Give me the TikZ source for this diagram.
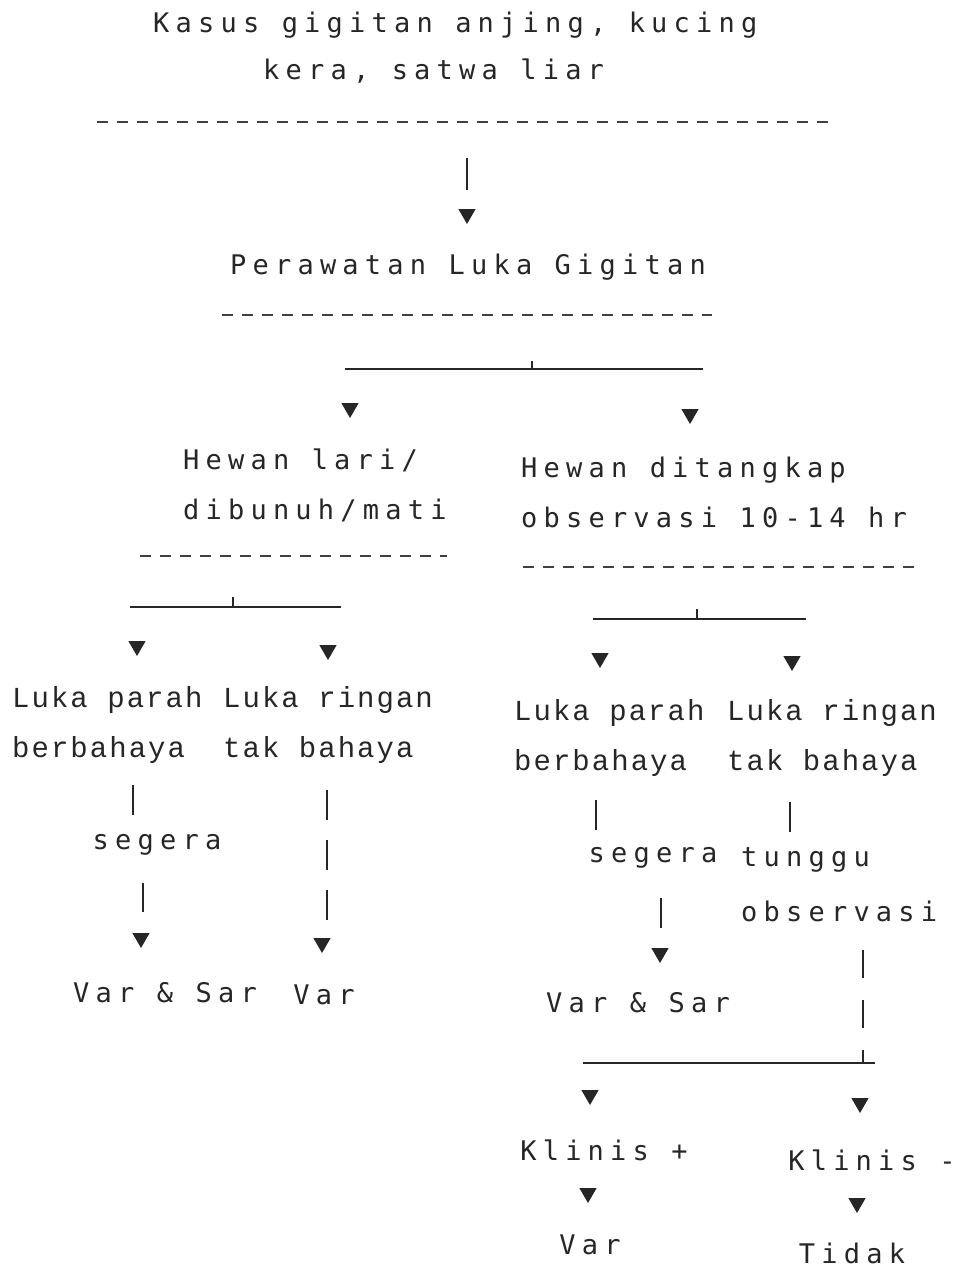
\documentclass[tikz,border=0pt]{standalone}
\usepackage{fontspec}
\usetikzlibrary{shapes.geometric}
\newfontfamily\dotfamily[LetterSpace=23]{DejaVu Sans Mono}
\newfontfamily\typefamily[LetterSpace=7]{Liberation Mono}
\newcommand{\dotface}{\dotfamily\fontsize{27}{50}\selectfont}
\newcommand{\dottitleface}{\dotfamily\fontsize{27}{47}\selectfont}
\newcommand{\dotwideface}{\dotfamily\fontsize{27}{55}\selectfont}
\newcommand{\typeface}{\typefamily\fontsize{29}{50}\selectfont}
\tikzset{
  dottext/.style={inner sep=0pt, font=\dotface, text=black!85},
  typetext/.style={inner sep=0pt, font=\typeface, text=black!85, align=left},
  downhead/.style={regular polygon, regular polygon sides=3, shape border rotate=180,
    fill=black!85, inner sep=0pt, minimum size=20pt},
  typedrule/.style={line width=1.6pt, dash pattern=on 11pt off 9pt, black!75},
  stem/.style={line width=1.8pt, black!85},
  splitbar/.style={line width=1.4pt, black!85}
}

\begin{document}
\begin{tikzpicture}[x=1pt, y=-1pt]
        \useasboundingbox (0,0) rectangle (962,1269);
        \node (title) [dottext, align=left, anchor=west, font=\dottitleface] at (153,48) {Kasus gigitan anjing, kucing\\\hspace*{110pt}kera, satwa liar};
        \node (care) [dottext] at (468,267) {Perawatan Luka Gigitan};
        \node (fled) [dottext, align=left, anchor=west] at (183,485) {Hewan lari/\\dibunuh/mati};
        \node (caught) [dottext, align=left, anchor=west] at (521,492) {Hewan ditangkap\\observasi 10-14 hr};
        \node (severeL) [typetext, anchor=west] at (12,725) {Luka parah\\berbahaya};
        \node (mildL) [typetext, anchor=west] at (223,725) {Luka ringan\\tak bahaya};
        \node (severeR) [typetext, anchor=west] at (514,738) {Luka parah\\berbahaya};
        \node (mildR) [typetext, anchor=west] at (727,738) {Luka ringan\\tak bahaya};
        \node (nowL) [dottext] at (157,845) {segera};
        \node (nowR) [dottext] at (653,858) {segera};
        \node (wait) [dottext, align=left, anchor=west, font=\dotwideface] at (741,885) {tunggu\\observasi};
        \node (varsarL) [dottext] at (165,993) {Var \& Sar};
        \node (varL) [dottext] at (324,995) {Var};
        \node (varsarR) [dottext] at (638,1003) {Var \& Sar};
        \node (plus) [dottext] at (604,1150) {Klinis +};
        \node (minus) [dottext] at (872,1160) {Klinis -};
        \node (varR) [dottext] at (590,1245) {Var};
        \node (none) [dottext] at (852,1253) {Tidak};

        \node (a0) [downhead] at (467,214) {};
        \node (a1) [downhead] at (350,408) {};
        \node (a2) [downhead] at (690,414) {};
        \node (a3) [downhead] at (137,646) {};
        \node (a4) [downhead] at (328,650) {};
        \node (a5) [downhead] at (600,658) {};
        \node (a6) [downhead] at (792,661) {};
        \node (a7) [downhead] at (141,938) {};
        \node (a8) [downhead] at (322,943) {};
        \node (a9) [downhead] at (660,953) {};
        \node (a10) [downhead] at (590,1095) {};
        \node (a11) [downhead] at (860,1103) {};
        \node (a12) [downhead] at (588,1193) {};
        \node (a13) [downhead] at (857,1203) {};

        \coordinate (r0w) at (97,122);
        \coordinate (r0e) at (836,122);
        \coordinate (r1w) at (222,315);
        \coordinate (r1e) at (712,315);
        \coordinate (r2w) at (140,556);
        \coordinate (r2e) at (447,556);
        \coordinate (r3w) at (523,567);
        \coordinate (r3e) at (923,567);
        \coordinate (b1w) at (345,369);
        \coordinate (b1e) at (703,369);
        \coordinate (b1t) at (532,361);
        \coordinate (b1m) at (532,369);
        \coordinate (b2w) at (130,607);
        \coordinate (b2e) at (341,607);
        \coordinate (b2t) at (233,597);
        \coordinate (b2m) at (233,607);
        \coordinate (b3w) at (593,619);
        \coordinate (b3e) at (806,619);
        \coordinate (b3t) at (697,609);
        \coordinate (b3m) at (697,619);
        \coordinate (b4w) at (583,1063);
        \coordinate (b4e) at (875,1063);
        \coordinate (s0a) at (467,158);
        \coordinate (s0b) at (467,190);
        \coordinate (s1a) at (133,785);
        \coordinate (s1b) at (133,815);
        \coordinate (s2a) at (143,883);
        \coordinate (s2b) at (143,912);
        \coordinate (s3a) at (327,790);
        \coordinate (s3b) at (327,920);
        \coordinate (s4a) at (596,800);
        \coordinate (s4b) at (596,830);
        \coordinate (s5a) at (661,898);
        \coordinate (s5b) at (661,928);
        \coordinate (s6a) at (790,802);
        \coordinate (s6b) at (790,832);
        \coordinate (s7a) at (863,950);
        \coordinate (s7b) at (863,1063);

        \draw[typedrule] (r0w) -- (r0e);
        \draw[typedrule] (r1w) -- (r1e);
        \draw[typedrule] (r2w) -- (r2e);
        \draw[typedrule] (r3w) -- (r3e);
        \draw[splitbar] (b1w) -- (b1e);
        \draw[splitbar] (b1t) -- (b1m);
        \draw[splitbar] (b2w) -- (b2e);
        \draw[splitbar] (b2t) -- (b2m);
        \draw[splitbar] (b3w) -- (b3e);
        \draw[splitbar] (b3t) -- (b3m);
        \draw[splitbar] (b4w) -- (b4e);
        \draw[stem] (s0a) -- (s0b);
        \draw[stem] (s1a) -- (s1b);
        \draw[stem] (s2a) -- (s2b);
        \draw[stem, dash pattern=on 30pt off 20pt] (s3a) -- (s3b);
        \draw[stem] (s4a) -- (s4b);
        \draw[stem] (s5a) -- (s5b);
        \draw[stem] (s6a) -- (s6b);
        \draw[stem, dash pattern=on 28pt off 22pt] (s7a) -- (s7b);
\end{tikzpicture}
\end{document}
